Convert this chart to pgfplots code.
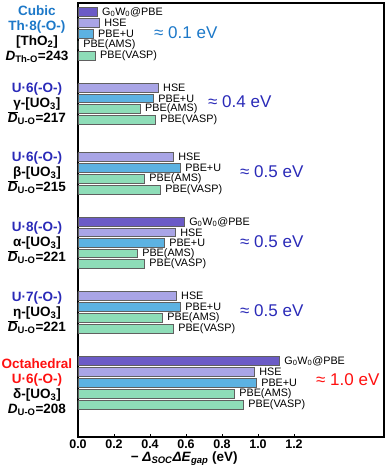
\documentclass[border=0pt]{standalone}
\usepackage{pgfplots}
\pgfplotsset{compat=1.18}
\usepackage{fontspec}
\setmainfont{Liberation Sans}
\definecolor{cGW}{HTML}{6B5BC6}
\definecolor{cHSE}{HTML}{A9A5E6}
\definecolor{cPU}{HTML}{5CB2E2}
\definecolor{cGR}{HTML}{8EDDB8}
\definecolor{tblue}{HTML}{1C78C8}
\definecolor{tdblue}{HTML}{2A2AB8}
\definecolor{tred}{HTML}{FF1010}
\newcommand{\Dbar}{\ensuremath{\overline{\mbox{\bfseries\itshape D}}}}
\newcommand{\Dit}{{\bfseries\itshape D}}
\begin{document}
\begin{tikzpicture}
\begin{axis}[
  scale only axis, width=306pt, height=434pt,
  xmin=0, xmax=1.7, ymin=3, ymax=437, y dir=reverse,
  clip=false,
  axis line style={line width=1.1pt},
  xtick={0,0.2,0.4,0.6,0.8,1.0,1.2},
  ytick=\empty,
  xtick pos=lower, tick align=inside, major tick length=3pt,
  tick style={line width=0.8pt, black},
  /pgf/number format/assume math mode=true,
  /pgf/number format/.cd, fixed, fixed zerofill, precision=1, /pgfplots/.cd,
  xticklabel style={font=\fontsize{12.5}{12.5}\selectfont\bfseries, yshift=1pt},
  xbar, bar shift=0pt, bar width=8.5,
  every axis plot/.append style={draw=gray!75!black, line width=0.6pt},
  nodes near coords, point meta=explicit symbolic,
  every node near coord/.append style={anchor=west, inner sep=0pt, xshift=5pt, font=\fontsize{10.8}{10.8}\selectfont, text=black},
]
% G0W0@PBE
\addplot[fill=cGW] coordinates {
 (0.105,12) [G\textsubscript{0}W\textsubscript{0}@PBE]
 (0.589,222) [G\textsubscript{0}W\textsubscript{0}@PBE]
 (1.117,361) [G\textsubscript{0}W\textsubscript{0}@PBE]
};
% HSE
\addplot[fill=cHSE] coordinates {
 (0.117,23) [HSE]
 (0.444,88) [HSE]
 (0.528,157) [HSE]
 (0.539,232.5) [HSE]
 (0.544,296) [HSE]
 (0.978,372) [HSE]
};
% PBE+U
\addplot[fill=cPU] coordinates {
 (0.083,34) [PBE+U]
 (0.417,98.5) [PBE+U]
 (0.567,168) [PBE+U]
 (0.478,243) [PBE+U]
 (0.567,307) [PBE+U]
 (0.989,383) [PBE+U]
};
% PBE(AMS)
\addplot[fill=cGR] coordinates {
 (0,45) [PBE(AMS)]
 (0.344,109) [PBE(AMS)]
 (0.367,179) [PBE(AMS)]
 (0.328,253.5) [PBE(AMS)]
 (0.467,318) [PBE(AMS)]
 (0.867,394) [PBE(AMS)]
};
% PBE(VASP)
\addplot[fill=cGR] coordinates {
 (0.094,56) [PBE(VASP)]
 (0.428,120) [PBE(VASP)]
 (0.456,190) [PBE(VASP)]
 (0.367,264) [PBE(VASP)]
 (0.528,329) [PBE(VASP)]
 (0.917,405) [PBE(VASP)]
};

% left group labels
\begin{scope}[every node/.style={align=center, inner sep=0pt, font=\fontsize{13.5}{15}\selectfont\bfseries}]
\node at (axis cs:-0.228,34) {\textcolor{tblue}{Cubic}\\\textcolor{tblue}{Th·8(-O-)}\\{[ThO\textsubscript{2}]}\\\Dit\textsubscript{Th-O}=243};
\node at (axis cs:-0.228,104) {\textcolor{tdblue}{U·6(-O-)}\\γ-[UO\textsubscript{3}]\\\Dbar\textsubscript{U-O}=217};
\node at (axis cs:-0.228,173) {\textcolor{tdblue}{U·6(-O-)}\\β-[UO\textsubscript{3}]\\\Dbar\textsubscript{U-O}=215};
\node at (axis cs:-0.228,243) {\textcolor{tdblue}{U·8(-O-)}\\α-[UO\textsubscript{3}]\\\Dbar\textsubscript{U-O}=221};
\node at (axis cs:-0.228,313) {\textcolor{tdblue}{U·7(-O-)}\\η-[UO\textsubscript{3}]\\\Dbar\textsubscript{U-O}=221};
\node at (axis cs:-0.228,387) {\textcolor{tred}{Octahedral}\\\textcolor{tred}{U·6(-O-)}\\δ-[UO\textsubscript{3}]\\\Dit\textsubscript{U-O}=208};
\end{scope}

% right annotations
\begin{scope}[every node/.style={anchor=west, inner sep=0pt, font=\fontsize{17}{17}\selectfont}]
\node[text=tblue] at (axis cs:0.422,33) {≈ 0.1 eV};
\node[text=tdblue] at (axis cs:0.722,102) {≈ 0.4 eV};
\node[text=tdblue] at (axis cs:0.9,172) {≈ 0.5 eV};
\node[text=tdblue] at (axis cs:0.9,242) {≈ 0.5 eV};
\node[text=tdblue] at (axis cs:0.9,311) {≈ 0.5 eV};
\node[text=tred] at (axis cs:1.322,380) {≈ 1.0 eV};
\end{scope}

% x label
\node[font=\fontsize{13.5}{13.5}\selectfont\bfseries, inner sep=0pt] at (axis cs:0.59,459)
 {− \textit{Δ}\textsubscript{\textit{SOC}}\textit{ΔE}\textsubscript{\textit{gap}} (eV)};

\coordinate (BL) at (axis cs:-0.43333,469);
\coordinate (TR) at (axis cs:1.71667,0);
\end{axis}
\pgfresetboundingbox
\path (BL) rectangle (TR);
\end{tikzpicture}
\end{document}
